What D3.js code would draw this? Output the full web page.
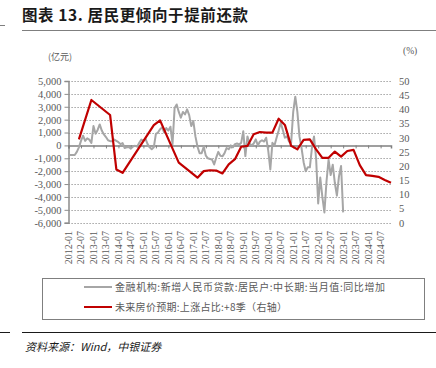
<!DOCTYPE html>
<html>
<head>
<meta charset="utf-8">
<script src="https://cdn.jsdelivr.net/npm/d3@7"></script>
<style>
  body { margin: 0; background: #fff; }
  text { font-family: "Liberation Serif", "Times New Roman", serif; }
  .cjk { font-family: "Noto Sans CJK SC", sans-serif; }
</style>
</head>
<body>
<div id="chart"></div>
<script>
// monthly categories 2012-01 .. 2024-12
var startYear = 2012, endYear = 2024;

// tick labels shown on the x axis
var tickLabels = ["2012-01","2012-07","2013-01","2013-07","2014-01","2014-07","2015-01","2015-07",
  "2016-01","2016-07","2017-01","2017-07","2018-01","2018-07","2019-01","2019-07","2020-01","2020-07",
  "2021-01","2021-07","2022-01","2022-07","2023-01","2023-07","2024-01","2024-07"];

// 金融机构:新增人民币贷款:居民户:中长期:当月值:同比增加 (亿元), monthly from 2012-01
var loanValues = [
  -750, -750, -750, -750, -500, -150, 350, 750, 350, 550, 450, 200,
  1500, 900, 1200, 1630, 1150, 850, 650, 400, 330, 330, 450, 350,
  250, 100, 180, -200, -150, -120, -250, -80, -30, -100, 200, 450,
  350, 520, 100, -150, -300, -150, 900, 1000, 1250, 1400, 1000, 1350,
  1150, 1450, 100, 2900, 3180, 2600, 2150, 2600, 2400, 2800, 2350, 1500,
  1890, 700, -100, -600, -600, -100, -800, -1000, -1050, -1100, -1480, -950,
  -500, -800, -850, -600, -200, -300, 0, -150, 100, 150, 80, 200,
  1100, -830, 700, 150, 0, 150, 470, 0, 300, 400, 300, 600,
  -400, -1870, 200, 0, 600, 1150, 1760, 1200, 600, 700, 300, 200,
  2600, 3780, 2600, 700, -200, -1300, -2000, -1700, -1700, -200, 700, -1000,
  -4500, -2500, -4000, -5200, -2800, -1100, -2300, -1500, -2900, -3900, -2400, -1600,
  -5200
];

// 未来房价预期:上涨占比:+8季 (%), quarterly points
var houseDates = ["2012-06","2012-12","2013-09","2013-12","2014-03","2015-06","2015-09","2016-06",
  "2017-03","2017-06","2017-09","2017-12","2018-03","2018-06","2018-09","2018-12",
  "2019-03","2019-06","2019-09","2019-12","2020-03","2020-06","2020-09","2020-12",
  "2021-03","2021-06","2021-09","2021-12","2022-03","2022-06","2022-09","2022-12",
  "2023-03","2023-06","2023-09","2023-12","2024-03","2024-06","2024-09","2024-12"];
var houseValues = [29.4, 43.3, 38.0, 18.8, 17.6, 34.4, 36.1, 21.2,
  15.9, 18.2, 18.5, 18.4, 17.4, 20.6, 22.4, 26.8,
  27.1, 31.2, 32.0, 31.8, 31.8, 36.7, 34.5, 27.1,
  25.9, 29.2, 29.4, 25.9, 22.9, 22.9, 25.1, 23.3,
  25.3, 25.7, 20.3, 16.8, 16.5, 16.2, 15.1, 14.1];

var months = [];
for (var yr = startYear; yr <= endYear; yr++) {
  for (var mo = 1; mo <= 12; mo++) {
    months.push(yr + "-" + (mo < 10 ? "0" + mo : mo));
  }
}

var svgWidth = 436, svgHeight = 368;
var plot = { left: 68.5, right: 391, top: 81, bottom: 222.7 };

var svg = d3.select("#chart")
  .append("svg")
  .attr("width", svgWidth)
  .attr("height", svgHeight);

// scales
var xScale = d3.scalePoint()
  .domain(months)
  .range([plot.left, plot.right]);

var yLeft = d3.scaleLinear()
  .domain([-6000, 5000])
  .range([plot.bottom, plot.top]);

var yRight = d3.scaleLinear()
  .domain([0, 50])
  .range([plot.bottom, plot.top]);

var leftTicks = d3.range(-6000, 5001, 1000);
var rightTicks = d3.range(0, 51, 5);

// title + rules
svg.append("text")
  .attr("class", "cjk")
  .attr("x", 22)
  .attr("y", 21)
  .attr("font-size", 15.5)
  .attr("font-weight", "bold")
  .attr("fill", "#1a1a1a")
  .attr("textLength", 226)
  .attr("lengthAdjust", "spacing")
  .text("图表 13. 居民更倾向于提前还款");

svg.append("line").attr("x1", 22).attr("x2", 436).attr("y1", 30.5).attr("y2", 30.5)
  .attr("stroke", "#7f7f7f").attr("stroke-width", 1);
svg.append("line").attr("x1", 0).attr("x2", 5).attr("y1", 25.5).attr("y2", 25.5)
  .attr("stroke", "#7f7f7f").attr("stroke-width", 1);

// unit labels
svg.append("text")
  .attr("class", "cjk")
  .attr("x", 48).attr("y", 60)
  .attr("font-size", 9)
  .attr("fill", "#595959")
  .text("(亿元)");

svg.append("text")
  .attr("x", 403).attr("y", 54)
  .attr("font-size", 9.5)
  .attr("fill", "#595959")
  .text("(%)");

// gridlines (dotted)
svg.append("g")
  .selectAll("line")
  .data(leftTicks.filter(function(d) { return d !== 0; }))
  .enter()
  .append("line")
  .attr("x1", plot.left)
  .attr("x2", plot.right)
  .attr("y1", function(d) { return Math.round(yLeft(d)) + 0.5; })
  .attr("y2", function(d) { return Math.round(yLeft(d)) + 0.5; })
  .attr("stroke", "#8c8c8c")
  .attr("stroke-width", 1)
  .attr("stroke-dasharray", "1.2,1.8");

// left axis
var leftAxis = d3.axisLeft(yLeft)
  .tickValues(leftTicks)
  .tickSize(4)
  .tickPadding(3)
  .tickFormat(function(d) { return d3.format(",")(d).replace("\u2212", "-"); });

var gLeft = svg.append("g")
  .attr("transform", "translate(" + plot.left + ",0)")
  .call(leftAxis);
gLeft.select(".domain").attr("stroke", "#8c8c8c").attr("stroke-width", 1.5);
gLeft.selectAll(".tick line").attr("stroke", "#8c8c8c");
gLeft.selectAll("text")
  .attr("font-family", "Liberation Serif")
  .attr("font-size", 10.5)
  .attr("fill", "#595959");

// right axis (labels only)
var rightAxis = d3.axisRight(yRight)
  .tickValues(rightTicks)
  .tickSize(0)
  .tickPadding(8);

var gRight = svg.append("g")
  .attr("transform", "translate(" + plot.right + ",0)")
  .call(rightAxis);
gRight.select(".domain").remove();
gRight.selectAll("text")
  .attr("font-family", "Liberation Serif")
  .attr("font-size", 10.5)
  .attr("fill", "#595959");

// zero line with ticks as category axis
var zeroY = yLeft(0);
var bottomAxis = d3.axisBottom(xScale)
  .tickValues(tickLabels)
  .tickSize(3)
  .tickFormat("");

var gZero = svg.append("g")
  .attr("transform", "translate(0," + zeroY + ")")
  .call(bottomAxis);
gZero.select(".domain").attr("stroke", "#808080").attr("stroke-width", 1.5);
gZero.selectAll(".tick line").attr("stroke", "#808080");

// x labels, rotated
svg.append("g")
  .selectAll("text")
  .data(tickLabels)
  .enter()
  .append("text")
  .attr("transform", function(d) { return "translate(" + xScale(d) + "," + 231 + ") rotate(-90)"; })
  .attr("dy", "0.35em")
  .attr("text-anchor", "end")
  .attr("font-size", 10)
  .attr("fill", "#595959")
  .text(function(d) { return d; });

// gray series
var loanLine = d3.line()
  .x(function(d, i) { return xScale(months[i]); })
  .y(function(d) { return yLeft(d); });

svg.append("path")
  .datum(loanValues)
  .attr("d", loanLine)
  .attr("fill", "none")
  .attr("stroke", "#a6a6a6")
  .attr("stroke-width", 2)
  .attr("stroke-linejoin", "round");

// red series
var houseLine = d3.line()
  .x(function(d, i) { return xScale(houseDates[i]); })
  .y(function(d) { return yRight(d); });

svg.append("path")
  .datum(houseValues)
  .attr("d", houseLine)
  .attr("fill", "none")
  .attr("stroke", "#c00000")
  .attr("stroke-width", 2.2)
  .attr("stroke-linejoin", "round");

// legend
svg.append("rect")
  .attr("x", 42.5).attr("y", 278.5)
  .attr("width", 382).attr("height", 41)
  .attr("fill", "none")
  .attr("stroke", "#7f7f7f")
  .attr("stroke-width", 1);

var legendItems = [
  { label: "金融机构:新增人民币贷款:居民户:中长期:当月值:同比增加", color: "#a6a6a6", len: 270 },
  { label: "未来房价预期:上涨占比:+8季（右轴）", color: "#c00000", len: 172 }
];

var legend = svg.append("g")
  .selectAll("g")
  .data(legendItems)
  .enter()
  .append("g")
  .attr("transform", function(d, i) { return "translate(84," + (287 + i * 20) + ")"; });

legend.append("line")
  .attr("x1", 0).attr("x2", 28)
  .attr("stroke", function(d) { return d.color; })
  .attr("stroke-width", 2);

legend.append("text")
  .attr("class", "cjk")
  .attr("x", 31)
  .attr("dy", "0.35em")
  .attr("font-size", 10)
  .attr("fill", "#595959")
  .attr("textLength", function(d) { return d.len; })
  .attr("lengthAdjust", "spacing")
  .text(function(d) { return d.label; });

// footer
svg.append("line").attr("x1", 22).attr("x2", 436).attr("y1", 332.5).attr("y2", 332.5)
  .attr("stroke", "#1a1a1a").attr("stroke-width", 1);
svg.append("line").attr("x1", 0).attr("x2", 10).attr("y1", 332.5).attr("y2", 332.5)
  .attr("stroke", "#1a1a1a").attr("stroke-width", 1);

svg.append("text")
  .attr("class", "cjk")
  .attr("x", 25).attr("y", 351)
  .attr("font-size", 11)
  .attr("font-style", "italic")
  .attr("fill", "#1a1a1a")
  .text("资料来源：Wind，中银证券");
</script>
</body>
</html>
